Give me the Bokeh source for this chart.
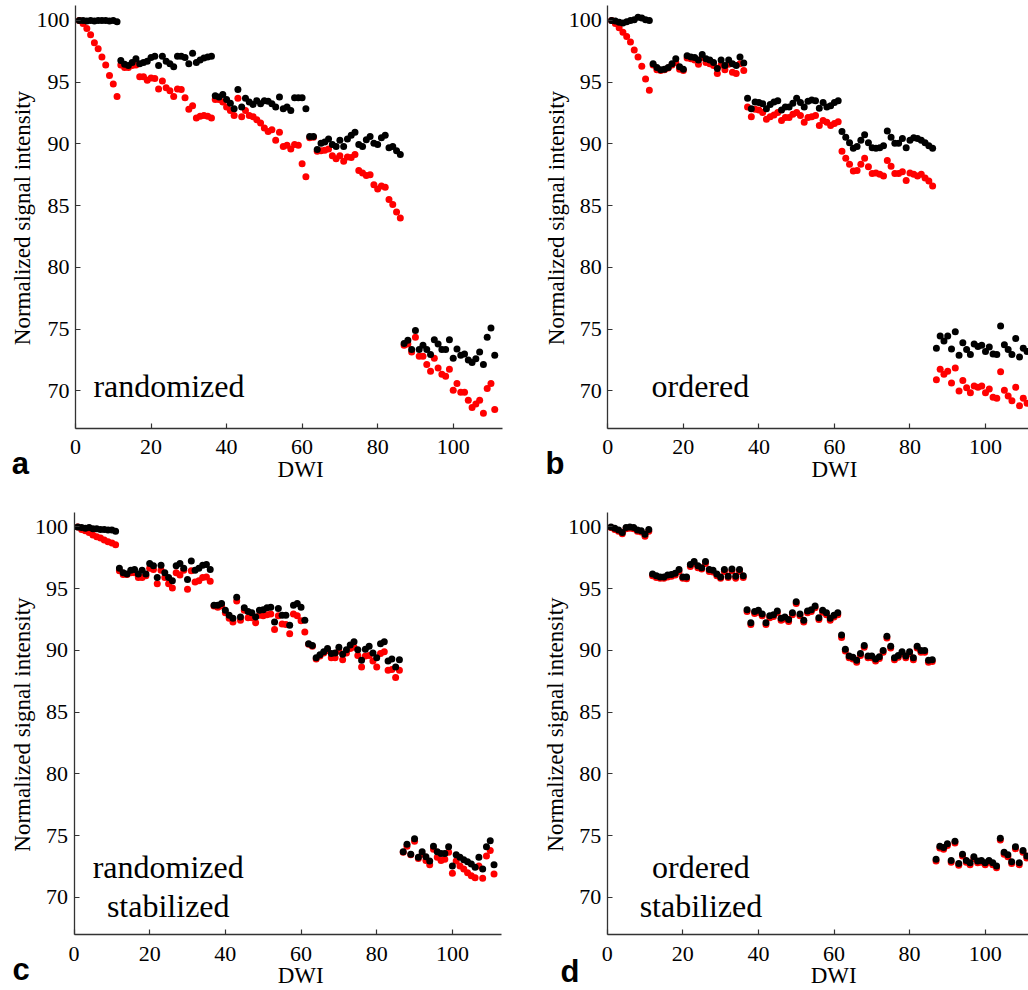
import math
from bokeh.plotting import figure
from bokeh.layouts import column, row
from bokeh.models import Range1d, Label, FixedTicker
from bokeh.embed import file_html
from bokeh.resources import INLINE

# ---------------- data ----------------
dwi = list(range(1, 112))          # DWI index 1..111 (5 shells: 11 + 4 x 25)
x_ticks = [0, 20, 40, 60, 80, 100]
y_ticks = [70, 75, 80, 85, 90, 95, 100]

a_black = [100.0, 100.0, 99.95, 100.0, 99.95, 100.0, 100.0, 100.0, 99.95, 100.0, 99.9,
           96.75, 96.45, 96.35, 96.6, 96.9, 96.5, 96.6, 96.7, 97.0, 97.1, 96.35, 97.1, 96.7, 96.5, 96.25, 97.1, 97.1, 97.0, 96.5, 97.35, 96.6, 96.8, 96.95, 97.05, 97.1,
           93.9, 93.8, 94.0, 93.6, 93.3, 92.85, 94.4, 93.0, 93.7, 93.4, 93.2, 93.5, 93.25, 93.5, 93.45, 93.25, 93.0, 93.8, 92.85, 93.0, 92.7, 93.75, 93.75, 93.75, 92.85,
           90.6, 90.6, 89.55, 90.05, 90.15, 90.4, 89.95, 89.8, 90.3, 89.8, 90.4, 90.7, 90.95, 89.95, 89.8, 90.35, 90.6, 90.05, 89.95, 90.5, 90.7, 89.7, 89.8, 89.45, 89.15,
           73.85, 74.1, 73.35, 74.9, 73.35, 73.7, 73.35, 72.95, 74.15, 73.8, 73.35, 73.35, 74.15, 72.65, 73.4, 72.9, 73.0, 72.5, 72.3, 72.6, 73.15, 72.15, 74.35, 75.1, 72.9]
a_red = [100.0, 99.75, 99.35, 98.85, 98.2, 97.7, 97.05, 96.4, 95.55, 94.85, 93.85,
         96.4, 96.2, 96.2, 96.35, 96.4, 95.45, 95.45, 95.15, 95.35, 95.3, 94.45, 95.1, 94.55, 94.3, 93.85, 94.45, 94.4, 93.75, 92.8, 93.1, 92.1, 92.25, 92.3, 92.25, 92.1,
         93.6, 93.6, 93.4, 93.0, 92.7, 92.3, 93.7, 92.2, 92.7, 92.3, 92.2, 91.95, 91.7, 91.3, 91.0, 91.15, 90.3, 90.95, 89.8, 89.9, 89.6, 89.95, 89.9, 88.4, 87.35,
         90.5, 90.55, 89.4, 89.45, 89.5, 89.6, 89.05, 88.8, 89.05, 88.6, 88.95, 88.9, 89.15, 87.85, 87.65, 87.45, 87.5, 86.7, 86.35, 86.6, 86.5, 85.5, 85.1, 84.5, 84.0,
         73.7, 73.8, 73.15, 74.35, 72.8, 72.8, 72.15, 71.6, 72.65, 71.85, 71.35, 71.2, 71.75, 70.05, 70.6, 69.9, 69.9, 69.25, 68.65, 68.95, 69.25, 68.2, 70.2, 70.6, 68.5]

b_black = [100.0, 99.95, 99.85, 99.8, 99.9, 100.0, 100.05, 100.25, 100.2, 100.05, 100.0,
           96.5, 96.2, 96.0, 96.05, 96.2, 96.5, 96.9, 96.25, 96.05, 97.15, 97.05, 97.0, 96.8, 97.25, 96.9, 96.8, 96.6, 96.1, 96.8, 96.35, 96.8, 96.5, 96.35, 97.05, 96.55,
           93.7, 92.85, 93.4, 93.35, 93.25, 92.85, 93.2, 93.4, 93.5, 92.75, 93.0, 93.0, 93.3, 93.7, 93.35, 93.0, 93.45, 93.55, 93.5, 92.9, 93.35, 93.0, 93.1, 93.35, 93.5,
           91.0, 90.55, 90.1, 89.65, 89.8, 90.3, 90.75, 90.1, 89.7, 89.65, 89.7, 89.85, 91.05, 90.55, 90.05, 90.05, 90.45, 89.7, 90.3, 90.5, 90.45, 90.3, 90.1, 89.85, 89.65,
           73.45, 74.45, 74.05, 74.45, 73.4, 74.8, 72.9, 73.9, 73.35, 72.95, 73.8, 73.6, 73.7, 73.2, 73.55, 73.0, 72.95, 75.25, 73.75, 73.35, 72.95, 74.25, 72.75, 73.45, 73.2]
b_red = [100.0, 99.75, 99.4, 99.05, 98.7, 98.25, 97.6, 97.05, 96.3, 95.25, 94.35,
         96.4, 96.0, 95.95, 96.0, 96.15, 96.4, 96.6, 96.05, 95.95, 96.95, 96.9, 96.8, 96.45, 97.0, 96.6, 96.5, 96.35, 95.7, 96.4, 96.0, 96.45, 95.8, 95.7, 96.5, 95.95,
         93.0, 92.2, 92.8, 92.75, 92.55, 92.0, 92.2, 92.35, 92.55, 91.9, 92.15, 92.15, 92.4, 92.55, 92.3, 91.75, 92.15, 92.2, 92.3, 91.5, 91.9, 91.75, 91.5, 91.65, 91.8,
         89.4, 88.85, 88.35, 87.8, 87.85, 88.35, 88.85, 88.15, 87.6, 87.65, 87.55, 87.4, 88.65, 88.2, 87.6, 87.6, 87.75, 87.05, 87.65, 87.55, 87.4, 87.55, 87.25, 87.0, 86.6,
         70.9, 71.75, 71.35, 71.6, 70.65, 71.85, 70.0, 70.85, 70.25, 69.85, 70.4, 70.3, 70.4, 69.85, 70.15, 69.5, 69.4, 71.55, 70.05, 69.6, 69.2, 70.3, 68.8, 69.4, 69.0]

c_black = [100.0, 99.95, 99.9, 99.95, 99.85, 99.85, 99.8, 99.8, 99.75, 99.75, 99.65,
           96.65, 96.3, 96.2, 96.5, 96.55, 96.2, 96.5, 96.2, 97.05, 96.85, 95.9, 96.9, 96.3, 95.9, 95.65, 96.85, 97.05, 96.65, 95.75, 97.25, 96.5, 96.65, 96.9, 96.95, 96.55,
           93.65, 93.65, 93.8, 93.25, 92.85, 92.6, 94.3, 92.7, 93.45, 93.15, 93.05, 92.7, 93.25, 93.3, 93.45, 93.5, 92.3, 93.4, 92.85, 92.85, 92.05, 93.65, 93.8, 93.5, 92.45,
           90.55, 90.4, 89.4, 89.65, 89.9, 90.15, 89.75, 89.8, 90.25, 89.7, 90.05, 90.45, 90.7, 90.05, 89.2, 90.1, 90.35, 89.8, 89.4, 90.55, 90.7, 89.15, 89.3, 88.65, 89.25,
           73.7, 74.3, 73.5, 74.75, 73.25, 73.7, 73.3, 72.95, 74.15, 73.7, 73.55, 73.55, 74.1, 72.55, 73.45, 73.25, 73.05, 72.9, 72.7, 72.45, 73.25, 72.3, 74.1, 74.6, 72.65]
c_red = [100.0, 99.8, 99.7, 99.55, 99.35, 99.2, 99.1, 98.95, 98.8, 98.7, 98.55,
         96.45, 96.15, 96.15, 96.3, 96.3, 95.9, 95.9, 96.05, 96.65, 96.55, 95.4, 96.5, 95.9, 95.4, 95.05, 96.3, 96.1, 96.5, 94.95, 96.45, 95.55, 95.65, 95.9, 95.95, 95.6,
         93.6, 93.5, 93.6, 93.05, 92.6, 92.3, 94.0, 92.45, 93.25, 92.65, 92.65, 92.25, 92.85, 92.8, 92.9, 92.95, 91.7, 92.8, 92.15, 92.1, 91.35, 92.95, 92.8, 92.4, 91.5,
         90.5, 90.35, 89.3, 89.55, 89.8, 90.0, 89.4, 89.4, 89.95, 89.25, 89.8, 90.15, 90.25, 89.6, 88.65, 89.55, 89.6, 89.15, 88.65, 89.75, 89.9, 88.4, 88.45, 87.8, 88.4,
         73.65, 74.15, 73.45, 74.55, 73.15, 73.5, 73.0, 72.65, 73.9, 73.25, 73.0, 73.1, 73.65, 71.95, 72.95, 72.55, 72.3, 72.0, 71.75, 71.6, 72.55, 71.55, 73.35, 73.8, 71.9]

d_black = [100.0, 99.9, 99.75, 99.55, 99.95, 100.0, 99.95, 99.75, 99.7, 99.4, 99.8,
           96.2, 96.05, 95.95, 95.95, 96.1, 96.15, 96.25, 96.55, 95.95, 95.95, 96.95, 97.2, 96.85, 96.7, 97.2, 96.55, 96.5, 96.2, 95.95, 96.55, 96.0, 96.6, 96.0, 96.55, 96.05,
           93.3, 92.25, 93.15, 93.25, 92.95, 92.25, 92.8, 92.9, 93.2, 92.6, 92.7, 92.5, 93.05, 93.95, 92.95, 92.45, 93.2, 93.3, 93.6, 92.65, 93.25, 93.05, 92.6, 92.85, 93.05,
           91.25, 90.1, 89.55, 89.45, 89.2, 89.75, 90.4, 89.55, 89.55, 89.3, 89.5, 90.0, 91.15, 90.35, 89.4, 89.6, 89.9, 89.55, 89.9, 89.4, 90.35, 90.0, 90.0, 89.2, 89.25,
           73.1, 74.15, 74.05, 74.35, 73.0, 74.55, 72.75, 73.5, 73.0, 72.8, 73.3, 72.95, 73.0, 72.8, 73.0, 72.8, 72.55, 74.8, 73.65, 73.45, 72.9, 74.1, 72.8, 73.8, 73.35]
d_red = [99.95, 99.8, 99.65, 99.45, 99.85, 99.9, 99.85, 99.65, 99.6, 99.25, 99.65,
         96.05, 95.9, 95.85, 95.85, 95.95, 96.0, 96.1, 96.4, 95.85, 95.8, 96.8, 97.05, 96.7, 96.6, 97.05, 96.4, 96.35, 96.05, 95.85, 96.4, 95.9, 96.45, 95.85, 96.4, 95.9,
         93.15, 92.1, 93.0, 93.1, 92.8, 92.1, 92.65, 92.75, 93.05, 92.45, 92.55, 92.35, 92.9, 93.8, 92.8, 92.3, 93.05, 93.15, 93.45, 92.5, 93.1, 92.9, 92.45, 92.7, 92.9,
         91.05, 89.95, 89.4, 89.3, 89.05, 89.6, 90.25, 89.4, 89.4, 89.15, 89.35, 89.85, 91.0, 90.2, 89.25, 89.45, 89.75, 89.4, 89.75, 89.25, 90.2, 89.85, 89.85, 89.05, 89.1,
         72.95, 74.0, 73.9, 74.2, 72.85, 74.4, 72.6, 73.35, 72.85, 72.65, 73.15, 72.8, 72.85, 72.65, 72.85, 72.65, 72.4, 74.65, 73.5, 73.3, 72.75, 73.95, 72.65, 73.65, 73.2]

for arr in (a_black, a_red, b_black, b_red, c_black, c_red, d_black, d_red):
    assert len(arr) == len(dwi), len(arr)

# ---------------- styling ----------------
SERIF = "Liberation Serif"
SANS = "Liberation Sans"
AXIS_COLOR = "#333333"
Y_BASE = 67          # where the x axis sits
X_AXIS_END = 113
Y_AXIS_TOP = 101.2


def panel(black, red, letter, lines, line_ys, *, W, H, x0_px, sx, y0_px, sy,
          text_x, letter_x, letter_y, ylabel_x, dwi_x, dwi_y):
    # frame fills the whole figure; the axes are pinned at x=0 and y=67
    x_start = -x0_px / sx
    x_end = (W - x0_px) / sx
    y_end = Y_BASE + y0_px / sy
    y_start = Y_BASE - (H - y0_px) / sy
    p = figure(frame_width=W, frame_height=H,
               min_border_left=0, min_border_right=0,
               min_border_top=0, min_border_bottom=0,
               x_range=Range1d(x_start, x_end), y_range=Range1d(y_start, y_end),
               output_backend="svg", toolbar_location=None,
               background_fill_color="white", border_fill_color="white")
    p.grid.visible = False
    p.outline_line_color = None

    for ax in (p.xaxis[0], p.yaxis[0]):
        ax.axis_line_color = AXIS_COLOR
        ax.axis_line_width = 1.3
        ax.major_tick_line_color = AXIS_COLOR
        ax.major_tick_line_width = 1.2
        ax.major_tick_in = 5
        ax.major_tick_out = 0
        ax.minor_tick_line_color = None
        ax.major_label_text_font = SERIF
        ax.major_label_text_font_size = "22px"
        ax.major_label_text_color = "black"
    p.xaxis.ticker = FixedTicker(ticks=x_ticks)
    p.yaxis.ticker = FixedTicker(ticks=y_ticks)
    p.xaxis.fixed_location = Y_BASE
    p.yaxis.fixed_location = 0
    p.xaxis.bounds = (0, X_AXIS_END)
    p.yaxis.bounds = (Y_BASE, Y_AXIS_TOP)
    p.xaxis.major_label_standoff = 12
    p.yaxis.major_label_standoff = 6

    p.scatter(dwi, red, size=7, fill_color="#ff0000", line_color=None)
    p.scatter(dwi, black, size=7, fill_color="#000000", line_color=None)

    for txt, ty in zip(lines, line_ys):
        p.add_layout(Label(x=text_x, y=ty, text=txt, text_font=SERIF,
                           text_font_size="32px", text_align="center",
                           text_baseline="alphabetic", text_color="black"))

    p.add_layout(Label(x=ylabel_x, y=84, text="Normalized signal intensity",
                       angle=math.pi / 2, text_font=SERIF, text_font_size="23px",
                       text_align="center", text_baseline="alphabetic",
                       text_color="black"))
    p.add_layout(Label(x=dwi_x, y=dwi_y, text="DWI", text_font=SERIF,
                       text_font_size="23px", text_align="center",
                       text_baseline="alphabetic", text_color="black"))
    p.add_layout(Label(x=letter_x, y=letter_y, text=letter, text_font=SANS,
                       text_font_style="bold", text_font_size="31px",
                       text_align="left", text_baseline="alphabetic",
                       text_color="black"))
    return p


pa = panel(a_black, a_red, "a", ["randomized"], [70.38],
           W=514, H=508, x0_px=75, sx=3.777, y0_px=427.5, sy=12.35,
           text_x=24.75, letter_x=-16.9, letter_y=64.13, ylabel_x=-14.0,
           dwi_x=59.6, dwi_y=63.64)
pb = panel(b_black, b_red, "b", ["ordered"], [70.38],
           W=514, H=508, x0_px=93.3, sx=3.777, y0_px=427.5, sy=12.35,
           text_x=24.5, letter_x=-16.5, letter_y=64.13, ylabel_x=-13.7,
           dwi_x=60.0, dwi_y=63.64)
pc = panel(c_black, c_red, "c", ["randomized", "stabilized"], [72.44, 69.33],
           W=514, H=482, x0_px=73.5, sx=3.784, y0_px=426, sy=12.35,
           text_x=24.9, letter_x=-16.25, letter_y=64.13, ylabel_x=-13.6,
           dwi_x=59.9, dwi_y=63.64)
pd = panel(d_black, d_red, "d", ["ordered", "stabilized"], [72.44, 69.33],
           W=514, H=482, x0_px=92.7, sx=3.78, y0_px=426, sy=12.35,
           text_x=24.8, letter_x=-12.35, letter_y=63.99, ylabel_x=-13.6,
           dwi_x=59.9, dwi_y=63.64)

layout = column(row(pa, pb), row(pc, pd))
open("out.html", "w").write(file_html(layout, INLINE))
